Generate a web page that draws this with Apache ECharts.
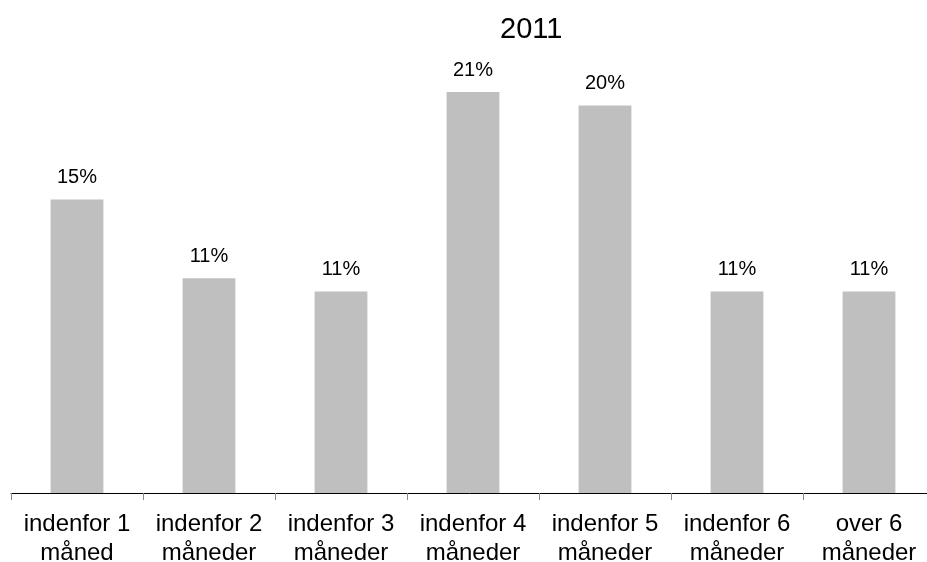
<!DOCTYPE html>
<html>
<head>
<meta charset="utf-8">
<script src="https://cdn.jsdelivr.net/npm/echarts@6/dist/echarts.min.js"></script>
<style>
html,body{margin:0;padding:0;background:#fff;}
#c{width:927px;height:562px;}
</style>
</head>
<body>
<div id="c"></div>
<script>
var title = '2011';
var categories = ['indenfor 1\nmåned', 'indenfor 2\nmåneder', 'indenfor 3\nmåneder', 'indenfor 4\nmåneder', 'indenfor 5\nmåneder', 'indenfor 6\nmåneder', 'over 6\nmåneder'];
var values = [15.45, 11.3, 10.6, 21.1, 20.4, 10.6, 10.6];

var chart = echarts.init(document.getElementById('c'));
chart.setOption({
  animation: false,
  backgroundColor: '#ffffff',
  textStyle: { fontFamily: 'Liberation Sans, Arial, sans-serif' },
  title: {
    text: title,
    left: 495,
    top: 10,
    textStyle: { fontSize: 29, fontWeight: 'normal', color: '#000', fontFamily: 'Liberation Sans, Arial, sans-serif' }
  },
  grid: { left: 11, width: 924, top: 37, bottom: 69, containLabel: false, outerBoundsMode: 'none' },
  xAxis: {
    type: 'category',
    data: categories,
    axisLine: { show: true, lineStyle: { color: '#000', width: 1 } },
    axisTick: { show: true, length: 7, lineStyle: { color: '#888' } },
    axisLabel: { color: '#000', fontSize: 24, lineHeight: 29, margin: 17, interval: 0, fontFamily: 'Liberation Sans, Arial, sans-serif' }
  },
  yAxis: {
    type: 'value',
    min: 0,
    max: 24,
    show: false,
    splitLine: { show: false }
  },
  series: [{
    type: 'bar',
    data: values,
    barWidth: '40%',
    itemStyle: { color: '#bfbfbf' },
    label: {
      show: true,
      position: 'top',
      distance: 12,
      color: '#000',
      fontSize: 20,
      fontFamily: 'Liberation Sans, Arial, sans-serif',
      formatter: function (p) { return Math.round(p.value) + '%'; }
    }
  }]
});
</script>
</body>
</html>
